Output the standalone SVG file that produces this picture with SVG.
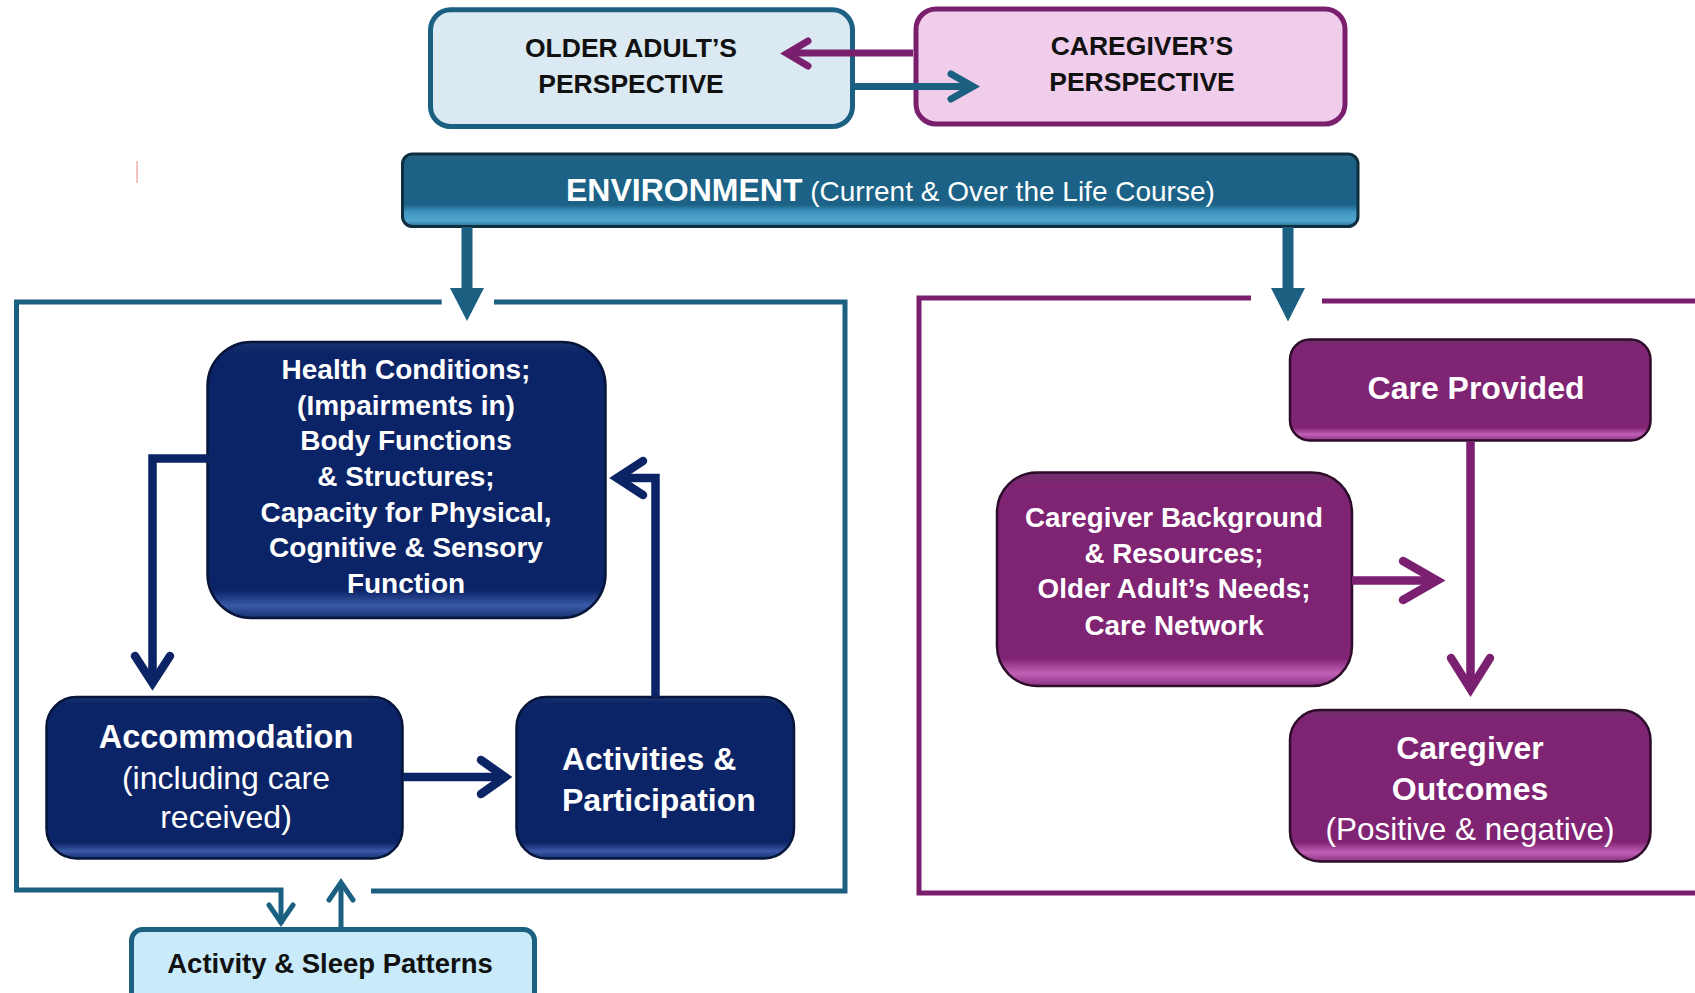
<svg xmlns="http://www.w3.org/2000/svg" width="1695" height="993" viewBox="0 0 1695 993">
<style>
text{font-family:"Liberation Sans",Arial,sans-serif;}
.b{font-weight:bold;}
.w{fill:#ffffff;}
.k{fill:#111111;}
.m{text-anchor:middle;}
.frameB{fill:none;stroke:#1b5f81;stroke-width:5;}
.frameP{fill:none;stroke:#7a1f6e;stroke-width:5;}
.navy{fill:none;stroke:#0b2466;stroke-width:8.5;stroke-linecap:round;stroke-linejoin:miter;}
.navyS{fill:none;stroke:#0b2466;stroke-width:8.5;stroke-linecap:butt;}
.purp{fill:none;stroke:#7b1f70;stroke-width:8.5;stroke-linecap:round;stroke-linejoin:miter;}
.purpS{fill:none;stroke:#7b1f70;stroke-width:8.5;stroke-linecap:butt;}
.blue{fill:none;stroke:#1b5f81;stroke-width:5;stroke-linecap:round;stroke-linejoin:miter;}
.nbox{fill:url(#gNavy);stroke:#08153a;stroke-width:2.5;}
.pbox{fill:url(#gPurp);stroke:#2e0d2b;stroke-width:2.5;}
</style>
<defs>
<linearGradient id="gNavy" x1="0" y1="0" x2="0" y2="1">
<stop offset="0" stop-color="#1a3470"/>
<stop offset="0.04" stop-color="#0b2467"/>
<stop offset="0.9" stop-color="#0b2467"/>
<stop offset="0.955" stop-color="#3a5aa8"/>
<stop offset="1" stop-color="#162f70"/>
</linearGradient>
<linearGradient id="gPurp" x1="0" y1="0" x2="0" y2="1">
<stop offset="0" stop-color="#6e3269"/>
<stop offset="0.06" stop-color="#7f2373"/>
<stop offset="0.87" stop-color="#7f2373"/>
<stop offset="0.94" stop-color="#c060b5"/>
<stop offset="1" stop-color="#8d3283"/>
</linearGradient>
<linearGradient id="gEnv" x1="0" y1="0" x2="0" y2="1">
<stop offset="0" stop-color="#2f6682"/>
<stop offset="0.1" stop-color="#1b6286"/>
<stop offset="0.7" stop-color="#1b6286"/>
<stop offset="0.8" stop-color="#3f95c0"/>
<stop offset="0.92" stop-color="#50a6ce"/>
<stop offset="1" stop-color="#2a6f93"/>
</linearGradient>
</defs>

<line x1="137" y1="161" x2="137" y2="183" stroke="#f5c3bd" stroke-width="2"/>

<g id="frames">
<path class="frameB" d="M441.7 302 H16.5 V890 H281 V924"/>
<path class="frameB" d="M494 302 H845 V891 H371"/>
<path class="frameP" d="M1251 298 H919 V893 H1700"/>
<path class="frameP" d="M1322 301 H1700"/>
</g>

<g id="older-adult">
<rect x="430.5" y="9.8" width="422" height="116.7" rx="20" fill="#dae9f2" stroke="#1b5f81" stroke-width="5"/>
<text class="b k m" x="631" y="57" font-size="26.5">OLDER ADULT’S</text>
<text class="b k m" x="631" y="92.5" font-size="26.5">PERSPECTIVE</text>
</g>

<g id="caregiver">
<rect x="916" y="9" width="429" height="115" rx="20" fill="#f0cdeb" stroke="#7a1f6e" stroke-width="5"/>
<text class="b k m" x="1142" y="55" font-size="26.5">CAREGIVER’S</text>
<text class="b k m" x="1142" y="91" font-size="26.5">PERSPECTIVE</text>
</g>

<g id="environment">
<rect x="402.5" y="154" width="955.5" height="72.5" rx="10" fill="url(#gEnv)" stroke="#0f2e3e" stroke-width="3"/>
<text class="w" x="566" y="201"><tspan class="b" font-size="32">ENVIRONMENT</tspan><tspan font-size="28"> (Current &amp; Over the Life Course)</tspan></text>
</g>

<g id="health">
<rect class="nbox" x="207.5" y="342" width="398" height="276" rx="44"/>
<text class="b w m" font-size="28" x="406" y="379">Health Conditions;</text>
<text class="b w m" font-size="28" x="406" y="415">(Impairments in)</text>
<text class="b w m" font-size="28" x="406" y="450">Body Functions</text>
<text class="b w m" font-size="28" x="406" y="486">&amp; Structures;</text>
<text class="b w m" font-size="28" x="406" y="522">Capacity for Physical,</text>
<text class="b w m" font-size="28" x="406" y="557">Cognitive &amp; Sensory</text>
<text class="b w m" font-size="28" x="406" y="593">Function</text>
</g>

<g id="accommodation">
<rect class="nbox" x="46.5" y="697" width="356" height="161.5" rx="30"/>
<text class="b w m" font-size="32.5" x="226" y="748">Accommodation</text>
<text class="w m" font-size="32" x="226" y="789">(including care</text>
<text class="w m" font-size="32" x="226" y="828">received)</text>
</g>

<g id="activities">
<rect class="nbox" x="516.5" y="697" width="277.5" height="161.5" rx="30"/>
<text class="b w" font-size="32" x="562" y="770">Activities &amp;</text>
<text class="b w" font-size="32" x="562" y="811">Participation</text>
</g>

<g id="activity-sleep">
<rect x="131.5" y="929.5" width="403" height="80" rx="11" fill="#c9eaf8" stroke="#1b5f81" stroke-width="5"/>
<text class="b k m" font-size="27.5" x="330" y="973">Activity &amp; Sleep Patterns</text>
</g>

<g id="care-provided">
<rect class="pbox" x="1290" y="339.5" width="360.5" height="101" rx="20"/>
<text class="b w m" font-size="32" x="1476" y="399">Care Provided</text>
</g>

<g id="caregiver-background">
<rect class="pbox" x="997" y="472.5" width="355" height="213.5" rx="40"/>
<text class="b w m" font-size="27.8" x="1174" y="527">Caregiver Background</text>
<text class="b w m" font-size="27.8" x="1174" y="563">&amp; Resources;</text>
<text class="b w m" font-size="27.8" x="1174" y="598">Older Adult’s Needs;</text>
<text class="b w m" font-size="27.8" x="1174" y="635">Care Network</text>
</g>

<g id="caregiver-outcomes">
<rect class="pbox" x="1290" y="710" width="360.5" height="151.5" rx="30"/>
<text class="b w m" font-size="32" x="1470" y="759">Caregiver</text>
<text class="b w m" font-size="32" x="1470" y="800">Outcomes</text>
<text class="w m" font-size="31.5" x="1470" y="839.5">(Positive &amp; negative)</text>
</g>

<g id="connectors">
<rect x="461.5" y="227" width="11" height="63" fill="#1b5f81"/>
<polygon points="450,288 484,288 467,321" fill="#1b5f81"/>
<rect x="1282.5" y="227" width="11" height="63" fill="#1b5f81"/>
<polygon points="1271,288 1305,288 1288,321.5" fill="#1b5f81"/>
<path d="M913 53 H790" fill="none" stroke="#7a1f6e" stroke-width="7"/>
<polyline points="808,41 787,53.5 808,66" fill="none" stroke="#7a1f6e" stroke-width="7" stroke-linecap="round"/>
<path d="M853 86.5 H970" fill="none" stroke="#1b5f81" stroke-width="7"/>
<polyline points="951,74 973,86.5 951,99" fill="none" stroke="#1b5f81" stroke-width="7" stroke-linecap="round"/>
<path class="navyS" d="M240 458.5 H152.5 V684"/>
<polyline class="navy" points="135,656 152.5,683 170,656"/>
<path class="navyS" d="M655.5 697 V478 H618"/>
<polyline class="navy" points="643,461 617,478 643,495"/>
<path class="navyS" d="M403 777 H504"/>
<polyline class="navy" points="481,760 505,777 481,794"/>
<polyline class="blue" points="269,905 281,922.5 293,905"/>
<path class="frameB" d="M341 929 V884"/>
<polyline class="blue" points="329,900 341,882.5 353,900"/>
<path class="purpS" d="M1470.5 441 V688"/>
<polyline class="purp" points="1451,658 1470.5,689 1490,658"/>
<path class="purpS" d="M1352 580.5 H1436"/>
<polyline class="purp" points="1403,561 1437,580.5 1403,600"/>
</g>
</svg>
